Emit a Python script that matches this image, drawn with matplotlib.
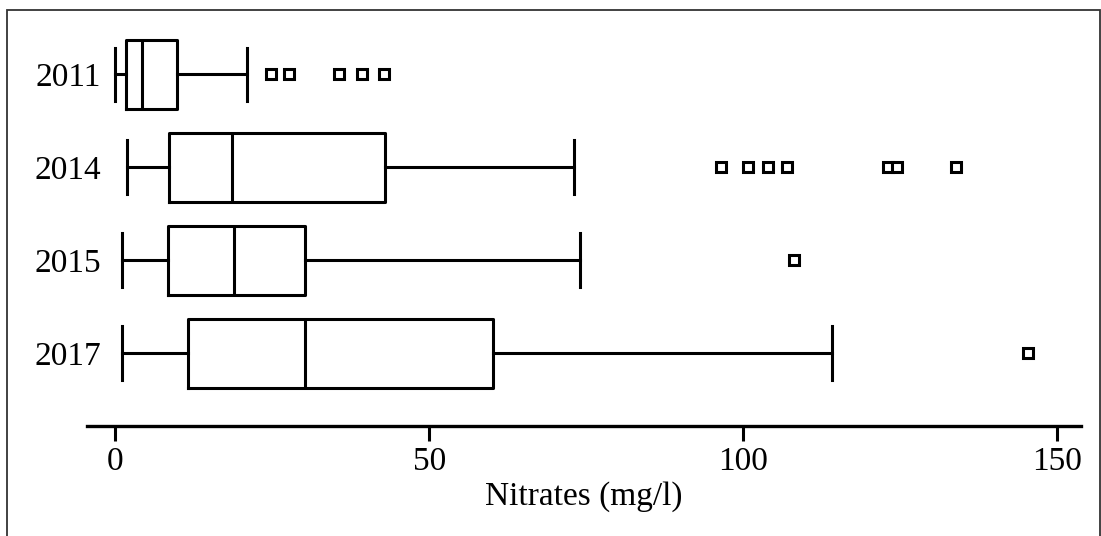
import matplotlib.pyplot as plt
from matplotlib.patches import Rectangle

# Data
years = ["2011", "2014", "2015", "2017"]
whisker_low = [0.0, 1.9, 1.0, 1.0]
q1 = [1.75, 8.6, 8.4, 11.6]
median = [4.3, 18.6, 18.9, 30.2]
q3 = [9.9, 42.9, 30.2, 60.1]
whisker_high = [21.0, 73.0, 74.0, 114.2]
outliers = [
    [24.8, 27.7, 35.6, 39.3, 42.8],
    [96.5, 100.8, 103.9, 106.9, 123.1, 124.5, 133.8],
    [108.0],
    [145.4],
]

plt.rcParams['font.family'] = ['Liberation Serif', 'DejaVu Serif']

fig = plt.figure(figsize=(11.01, 5.36), dpi=100)
ax = fig.add_axes([0.079, 0.205, 0.903, 0.76])

stats = []
for i in range(len(years)):
    stats.append({
        'label': years[i],
        'whislo': whisker_low[i],
        'q1': q1[i],
        'med': median[i],
        'q3': q3[i],
        'whishi': whisker_high[i],
        'fliers': outliers[i],
    })

# 2011 on top
positions = [4, 3, 2, 1]
lw = 2.2
ax.bxp(stats, positions=positions, vert=False, widths=0.74, capwidths=0.58,
       boxprops=dict(color='black', linewidth=lw),
       medianprops=dict(color='black', linewidth=lw),
       whiskerprops=dict(color='black', linewidth=lw),
       capprops=dict(color='black', linewidth=lw),
       flierprops=dict(marker='s', markersize=7, markerfacecolor='white',
                       markeredgecolor='black', markeredgewidth=2.2))

ax.set_xlim(-4.5, 153.8)
ax.set_ylim(0.215, 4.6)
ax.set_xticks([0, 50, 100, 150])

for s in ['top', 'right', 'left']:
    ax.spines[s].set_visible(False)
ax.spines['bottom'].set_linewidth(2.4)
ax.tick_params(axis='x', direction='out', length=11, width=2.2, labelsize=24, pad=4)
ax.tick_params(axis='y', length=0, labelsize=24, pad=-10)
ax.set_xlabel("Nitrates (mg/l)", fontsize=24, labelpad=3)

# outer frame
fig.patches.append(Rectangle((7 / 1101, -0.01), 1093 / 1101, 1 - 10 / 536 + 0.01,
                             transform=fig.transFigure, fill=False,
                             edgecolor='#333333', linewidth=1.3))

fig.savefig("out.png", dpi=100)
